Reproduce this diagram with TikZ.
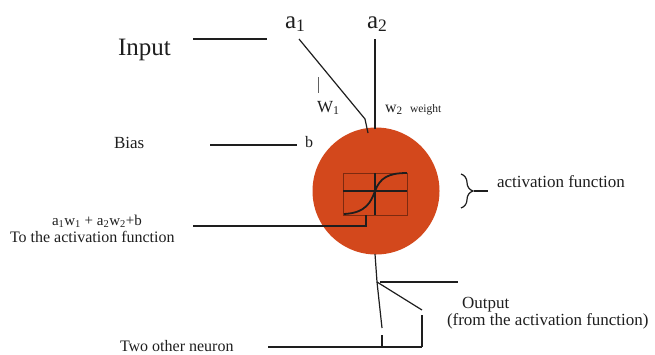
\documentclass[tikz,border=0pt]{standalone}
\usepackage{fontspec}
\setmainfont{Liberation Serif}
\usetikzlibrary{decorations.pathreplacing}
\definecolor{neuroncol}{RGB}{211,72,28}
\definecolor{boxline}{RGB}{125,42,16}
\definecolor{ink}{RGB}{30,30,30}
\begin{document}
\begin{tikzpicture}[x=1pt,y=-1pt,
  lbl/.style={anchor=base west, inner sep=0pt, outer sep=0pt, text=ink},
  wire/.style={draw=ink, line width=1.2pt},
  thinwire/.style={draw=ink!70, line width=0.8pt}]
\useasboundingbox (0,0) rectangle (655,354);

% neuron body
\node[circle, fill=neuroncol, minimum size=127pt, inner sep=0pt] (neuron) at (376,191) {};

% activation plot inside
\draw[boxline, line width=0.9pt] (343,173) rectangle (407,215);
\draw[ink, line width=1.3pt] (343,191) -- (407,191);
\draw[ink, line width=1.3pt] (375,173) -- (375,215);
\draw[ink, line width=1.8pt] (344,214) .. controls (366,213) and (371,202) .. (375,191)
   .. controls (380,178) and (388,173) .. (407,173);

% texts
\node[lbl, font=\fontsize{25}{30}\selectfont] (input) at (118,55) {Input};
\node[lbl, font=\fontsize{25}{30}\selectfont] (a1) at (285,28) {a\textsubscript{1}};
\node[lbl, font=\fontsize{25}{30}\selectfont] (a2) at (367,28) {a\textsubscript{2}};
\node[lbl, font=\fontsize{17}{20}\selectfont] (w1) at (317,112) {W\textsubscript{1}};
\node[lbl, font=\fontsize{16}{20}\selectfont] (w2) at (385,112) {w\textsubscript{2}};
\node[lbl, font=\fontsize{11.5}{14}\selectfont] (weight) at (410,112) {weight};
\node[lbl, font=\fontsize{17}{20}\selectfont] (bias) at (114,148) {Bias};
\node[lbl, font=\fontsize{16}{20}\selectfont] (b) at (305,147) {b};
\node[lbl, font=\fontsize{17}{20}\selectfont] (act) at (497,187) {activation function};
\node[lbl, font=\fontsize{15}{18}\selectfont] (sum) at (52,225) {a\textsubscript{1}w\textsubscript{1} + a\textsubscript{2}w\textsubscript{2}+b};
\node[lbl, font=\fontsize{16}{20}\selectfont] (toact) at (10,242) {To the activation function};
\node[lbl, font=\fontsize{17}{20}\selectfont] (output) at (462,308) {Output};
\node[lbl, font=\fontsize{17}{20}\selectfont] (fromact) at (447,325) {(from the activation function)};
\node[lbl, font=\fontsize{16}{20}\selectfont] (two) at (120,351) {Two other neuron};

% coordinates
\coordinate (inL) at (193,39);  \coordinate (inR) at (267,39);
\coordinate (a1s) at (299,39);  \coordinate (a1k) at (365,119); \coordinate (a1e) at (368,133);
\coordinate (a2s) at (375,39);  \coordinate (a2e) at (375,129);
\coordinate (tickT) at (318,77); \coordinate (tickB) at (318,93);
\coordinate (biasL) at (210,145); \coordinate (biasR) at (297,145);
\coordinate (sumL) at (193,226); \coordinate (sumK) at (366,226); \coordinate (sumE) at (366,215);
\coordinate (outS) at (375,254); \coordinate (outJ) at (377,282); \coordinate (outE) at (382,328);
\coordinate (n1T) at (382,335); \coordinate (n1B) at (382,347);
\coordinate (brE) at (422,310); \coordinate (n2T) at (422,315); \coordinate (n2B) at (422,347);
\coordinate (ohL) at (380,282); \coordinate (ohR) at (458,282);
\coordinate (botL) at (268,347);
\coordinate (brTop) at (461,174); \coordinate (brBot) at (461,208);
\coordinate (brTip) at (474,191); \coordinate (brEnd) at (488,191);

% connectors
\draw[wire] (inL) -- (inR);
\draw[wire] (a1s) -- (a1k) -- (a1e);
\draw[wire] (a2s) -- (a2e);
\draw[thinwire] (tickT) -- (tickB);
\draw[wire] (biasL) -- (biasR);
\draw[wire] (sumL) -- (sumK) -- (sumE);
\draw[wire] (outS) -- (outJ) -- (outE);
\draw[wire] (n1T) -- (n1B);
\draw[wire] (outJ) -- (brE);
\draw[wire] (n2T) -- (n2B);
\draw[wire] (ohL) -- (ohR);
\draw[wire] (botL) -- (n2B);
\draw[wire, decorate, decoration={brace, amplitude=12pt}] (brTop) -- (brBot);
\draw[wire] (brTip) -- (brEnd);
\end{tikzpicture}
\end{document}
